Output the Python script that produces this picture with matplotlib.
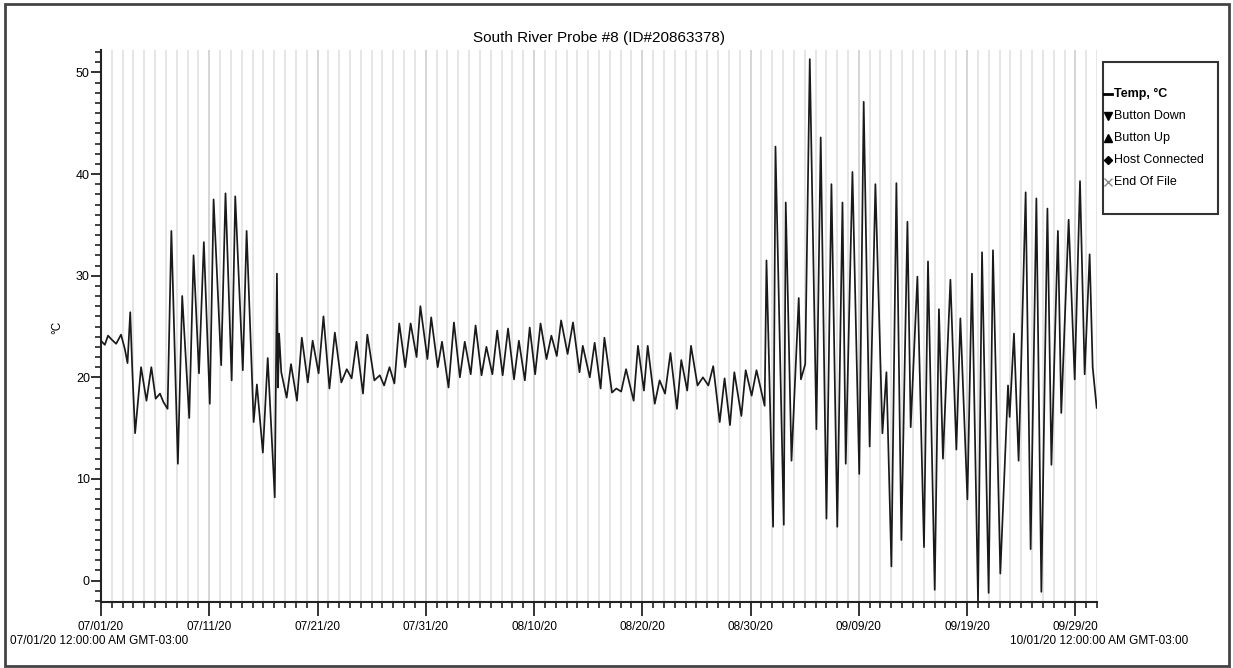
"""Temperature logger plot for South River Probe #8"""

import matplotlib.pyplot as plt
from matplotlib.lines import Line2D
from matplotlib.patches import Rectangle
from matplotlib.ticker import FixedLocator, MultipleLocator

plt.rcParams['font.family'] = ['Liberation Sans', 'DejaVu Sans']

# Logged readings: time in days since 07/01/20 00:00 and temperature in deg C
days = [
    0.00, 0.35, 0.65, 1.00, 1.40, 1.85, 2.20, 2.45, 2.70, 2.90,
    3.15, 3.70, 4.20, 4.65, 5.05, 5.45, 5.75, 6.15, 6.50, 7.10,
    7.50, 8.15, 8.55, 9.05, 9.50, 10.05, 10.40, 11.10, 11.50, 12.07,
    12.40, 13.10, 13.45, 14.10, 14.40, 14.95, 15.40, 16.05, 16.25, 16.35,
    16.45, 16.65, 17.15, 17.55, 18.10, 18.55, 19.10, 19.55, 20.10, 20.55,
    21.10, 21.60, 22.20, 22.70, 23.15, 23.60, 24.20, 24.60, 25.25, 25.75,
    26.15, 26.65, 27.10, 27.55, 28.10, 28.60, 29.15, 29.50, 30.15, 30.50,
    31.10, 31.50, 32.10, 32.60, 33.15, 33.60, 34.15, 34.60, 35.15, 35.60,
    36.15, 36.60, 37.10, 37.60, 38.15, 38.60, 39.15, 39.60, 40.10, 40.60,
    41.15, 41.60, 42.10, 42.50, 43.10, 43.60, 44.20, 44.50, 45.15, 45.60,
    46.15, 46.50, 47.20, 47.60, 48.05, 48.50, 49.20, 49.60, 50.15, 50.50,
    51.15, 51.60, 52.10, 52.60, 53.20, 53.60, 54.15, 54.50, 55.10, 55.60,
    56.10, 56.55, 57.15, 57.60, 58.10, 58.50, 59.15, 59.55, 60.10, 60.55,
    61.30, 61.47, 62.08, 62.30, 63.07, 63.25, 63.78, 64.45, 64.65, 65.05,
    65.47, 66.08, 66.48, 67.01, 67.47, 68.01, 68.49, 68.79, 69.41, 70.04,
    70.45, 71.00, 71.53, 72.18, 72.55, 73.01, 73.47, 73.93, 74.49, 74.79,
    75.41, 76.02, 76.39, 77.01, 77.40, 77.77, 78.46, 79.01, 79.38, 80.03,
    80.45, 81.01, 81.38, 81.99, 82.39, 83.07, 83.78, 83.93, 84.33, 84.76,
    85.41, 85.87, 86.40, 86.86, 87.42, 87.79, 88.39, 88.70, 89.38, 89.94,
    90.43, 90.86, 91.32, 91.60, 91.97,
]
temps = [
    23.6, 23.2, 24.1, 23.7, 23.3, 24.2, 22.8, 21.4, 26.4, 20.5,
    14.5, 21.0, 17.7, 21.0, 17.9, 18.4, 17.6, 16.9, 34.4, 11.5,
    28.0, 16.0, 32.0, 20.4, 33.3, 17.4, 37.5, 21.2, 38.1, 19.7,
    37.8, 20.7, 34.4, 15.6, 19.3, 12.6, 21.9, 8.2, 30.2, 19.0,
    24.3, 20.5, 18.0, 21.3, 17.7, 23.9, 19.5, 23.6, 20.4, 26.0,
    18.9, 24.4, 19.5, 20.8, 19.9, 23.5, 18.4, 24.2, 19.7, 20.2,
    19.2, 21.0, 19.4, 25.3, 21.0, 25.3, 22.0, 27.0, 21.8, 25.9,
    21.0, 23.5, 19.0, 25.4, 20.0, 23.5, 20.3, 25.1, 20.2, 23.0,
    20.3, 24.6, 20.2, 24.8, 19.8, 23.6, 19.7, 24.9, 20.3, 25.3,
    21.8, 24.1, 22.1, 25.6, 22.3, 25.4, 20.5, 23.1, 20.0, 23.4,
    18.9, 23.9, 18.5, 18.9, 18.6, 20.8, 17.7, 23.1, 18.7, 23.1,
    17.4, 19.7, 18.4, 22.4, 16.9, 21.7, 18.7, 23.1, 19.2, 20.0,
    19.2, 21.1, 15.6, 19.9, 15.3, 20.5, 16.2, 20.7, 18.2, 20.7,
    17.2, 31.5, 5.3, 42.7, 5.5, 37.2, 11.8, 27.8, 19.8, 21.3,
    51.3, 14.9, 43.6, 6.1, 39.0, 5.3, 37.2, 11.5, 40.2, 10.5,
    47.1, 13.2, 39.0, 14.5, 20.5, 1.4, 39.1, 4.0, 35.3, 15.1,
    29.9, 3.3, 31.4, -0.9, 26.7, 12.0, 29.6, 12.9, 25.8, 8.0,
    30.2, -2.0, 32.3, -1.2, 32.5, 0.7, 19.2, 16.1, 24.3, 11.8,
    38.2, 3.1, 37.6, -1.1, 36.6, 11.4, 34.4, 16.5, 35.5, 19.8,
    39.3, 20.3, 32.1, 21.0, 17.0,
]

tick_days = [0, 10, 20, 30, 40, 50, 60, 70, 80, 90]
tick_labels = ['07/01/20', '07/11/20', '07/21/20', '07/31/20', '08/10/20',
               '08/20/20', '08/30/20', '09/09/20', '09/19/20', '09/29/20']
legend_names = ['Temp, °C', 'Button Down', 'Button Up', 'Host Connected', 'End Of File']

W, H = 1233, 668
fig = plt.figure(figsize=(W / 100, H / 100), dpi=100)
ax = fig.add_axes([101 / W, 1 - 602 / H, 996 / W, 552 / H])

# Temperature trace
ax.plot(days, temps, color='#1a1a1a', lw=1.25, zorder=3)

ax.set_xlim(0, 92)
ax.set_ylim(-2.1, 52.2)

# Daily grid lines, slightly darker every ten days
ax.xaxis.set_major_locator(FixedLocator(tick_days))
ax.xaxis.set_minor_locator(MultipleLocator(1))
ax.set_xticklabels(tick_labels)
ax.grid(True, axis='x', which='minor', color='#e4e4e4', lw=1.3)
ax.grid(True, axis='x', which='major', color='#d2d2d2', lw=1.3)

ax.yaxis.set_major_locator(MultipleLocator(10))
ax.yaxis.set_minor_locator(MultipleLocator(1))

for side in ['top', 'right']:
    ax.spines[side].set_visible(False)
for side in ['left', 'bottom']:
    ax.spines[side].set_linewidth(1.5)
    ax.spines[side].set_color('#222222')

ax.tick_params(axis='x', which='major', length=10, width=1.3, color='#222222',
               labelsize=8.5, pad=4)
ax.tick_params(axis='x', which='minor', length=4, width=1.2, color='#222222')
ax.tick_params(axis='y', which='major', length=7, width=1.3, color='#222222',
               labelsize=9, pad=1)
ax.tick_params(axis='y', which='minor', length=4, width=1.2, color='#222222')

ax.set_title('South River Probe #8 (ID#20863378)', fontsize=11, pad=6)
fig.text(57 / W, 1 - 327 / H, '°C', rotation=90, ha='center', va='center', fontsize=8.5)

# Start and end stamps under the axis
fig.text(10 / W, 1 - 641 / H, '07/01/20 12:00:00 AM GMT-03:00', ha='left', va='center',
         fontsize=8.5)
fig.text(1010 / W, 1 - 641 / H, '10/01/20 12:00:00 AM GMT-03:00', ha='left', va='center',
         fontsize=8.5)

# Legend box on the right
fig.add_artist(Rectangle((1103 / W, 1 - 214 / H), 115 / W, 152 / H,
                         transform=fig.transFigure, fill=False, ec='#333333', lw=1.5))
entry_y = [94, 116, 138, 160, 182]
fig.add_artist(Line2D([1104 / W, 1112 / W], [1 - entry_y[0] / H] * 2,
                      transform=fig.transFigure, color='black', lw=2))
markers = [None, 'v', '^', 'D', 'x']
for name, mk, yy in zip(legend_names, markers, entry_y):
    yf = 1 - yy / H
    if mk is not None:
        col = '#888888' if mk == 'x' else 'black'
        fig.add_artist(Line2D([1108 / W], [yf], transform=fig.transFigure,
                              marker=mk, ms=5.5 if mk != 'D' else 4, color=col,
                              mew=1.0, ls='none'))
    fig.text(1113.5 / W, yf, name, ha='left', va='center', fontsize=9,
             fontweight='bold' if mk is None else 'normal')

# Frame round the whole figure
fig.add_artist(Rectangle((5 / W, 2 / H), 1224 / W, 662 / H, transform=fig.transFigure,
                         fill=False, ec='#444444', lw=2))

fig.savefig('out.png', dpi=100)
